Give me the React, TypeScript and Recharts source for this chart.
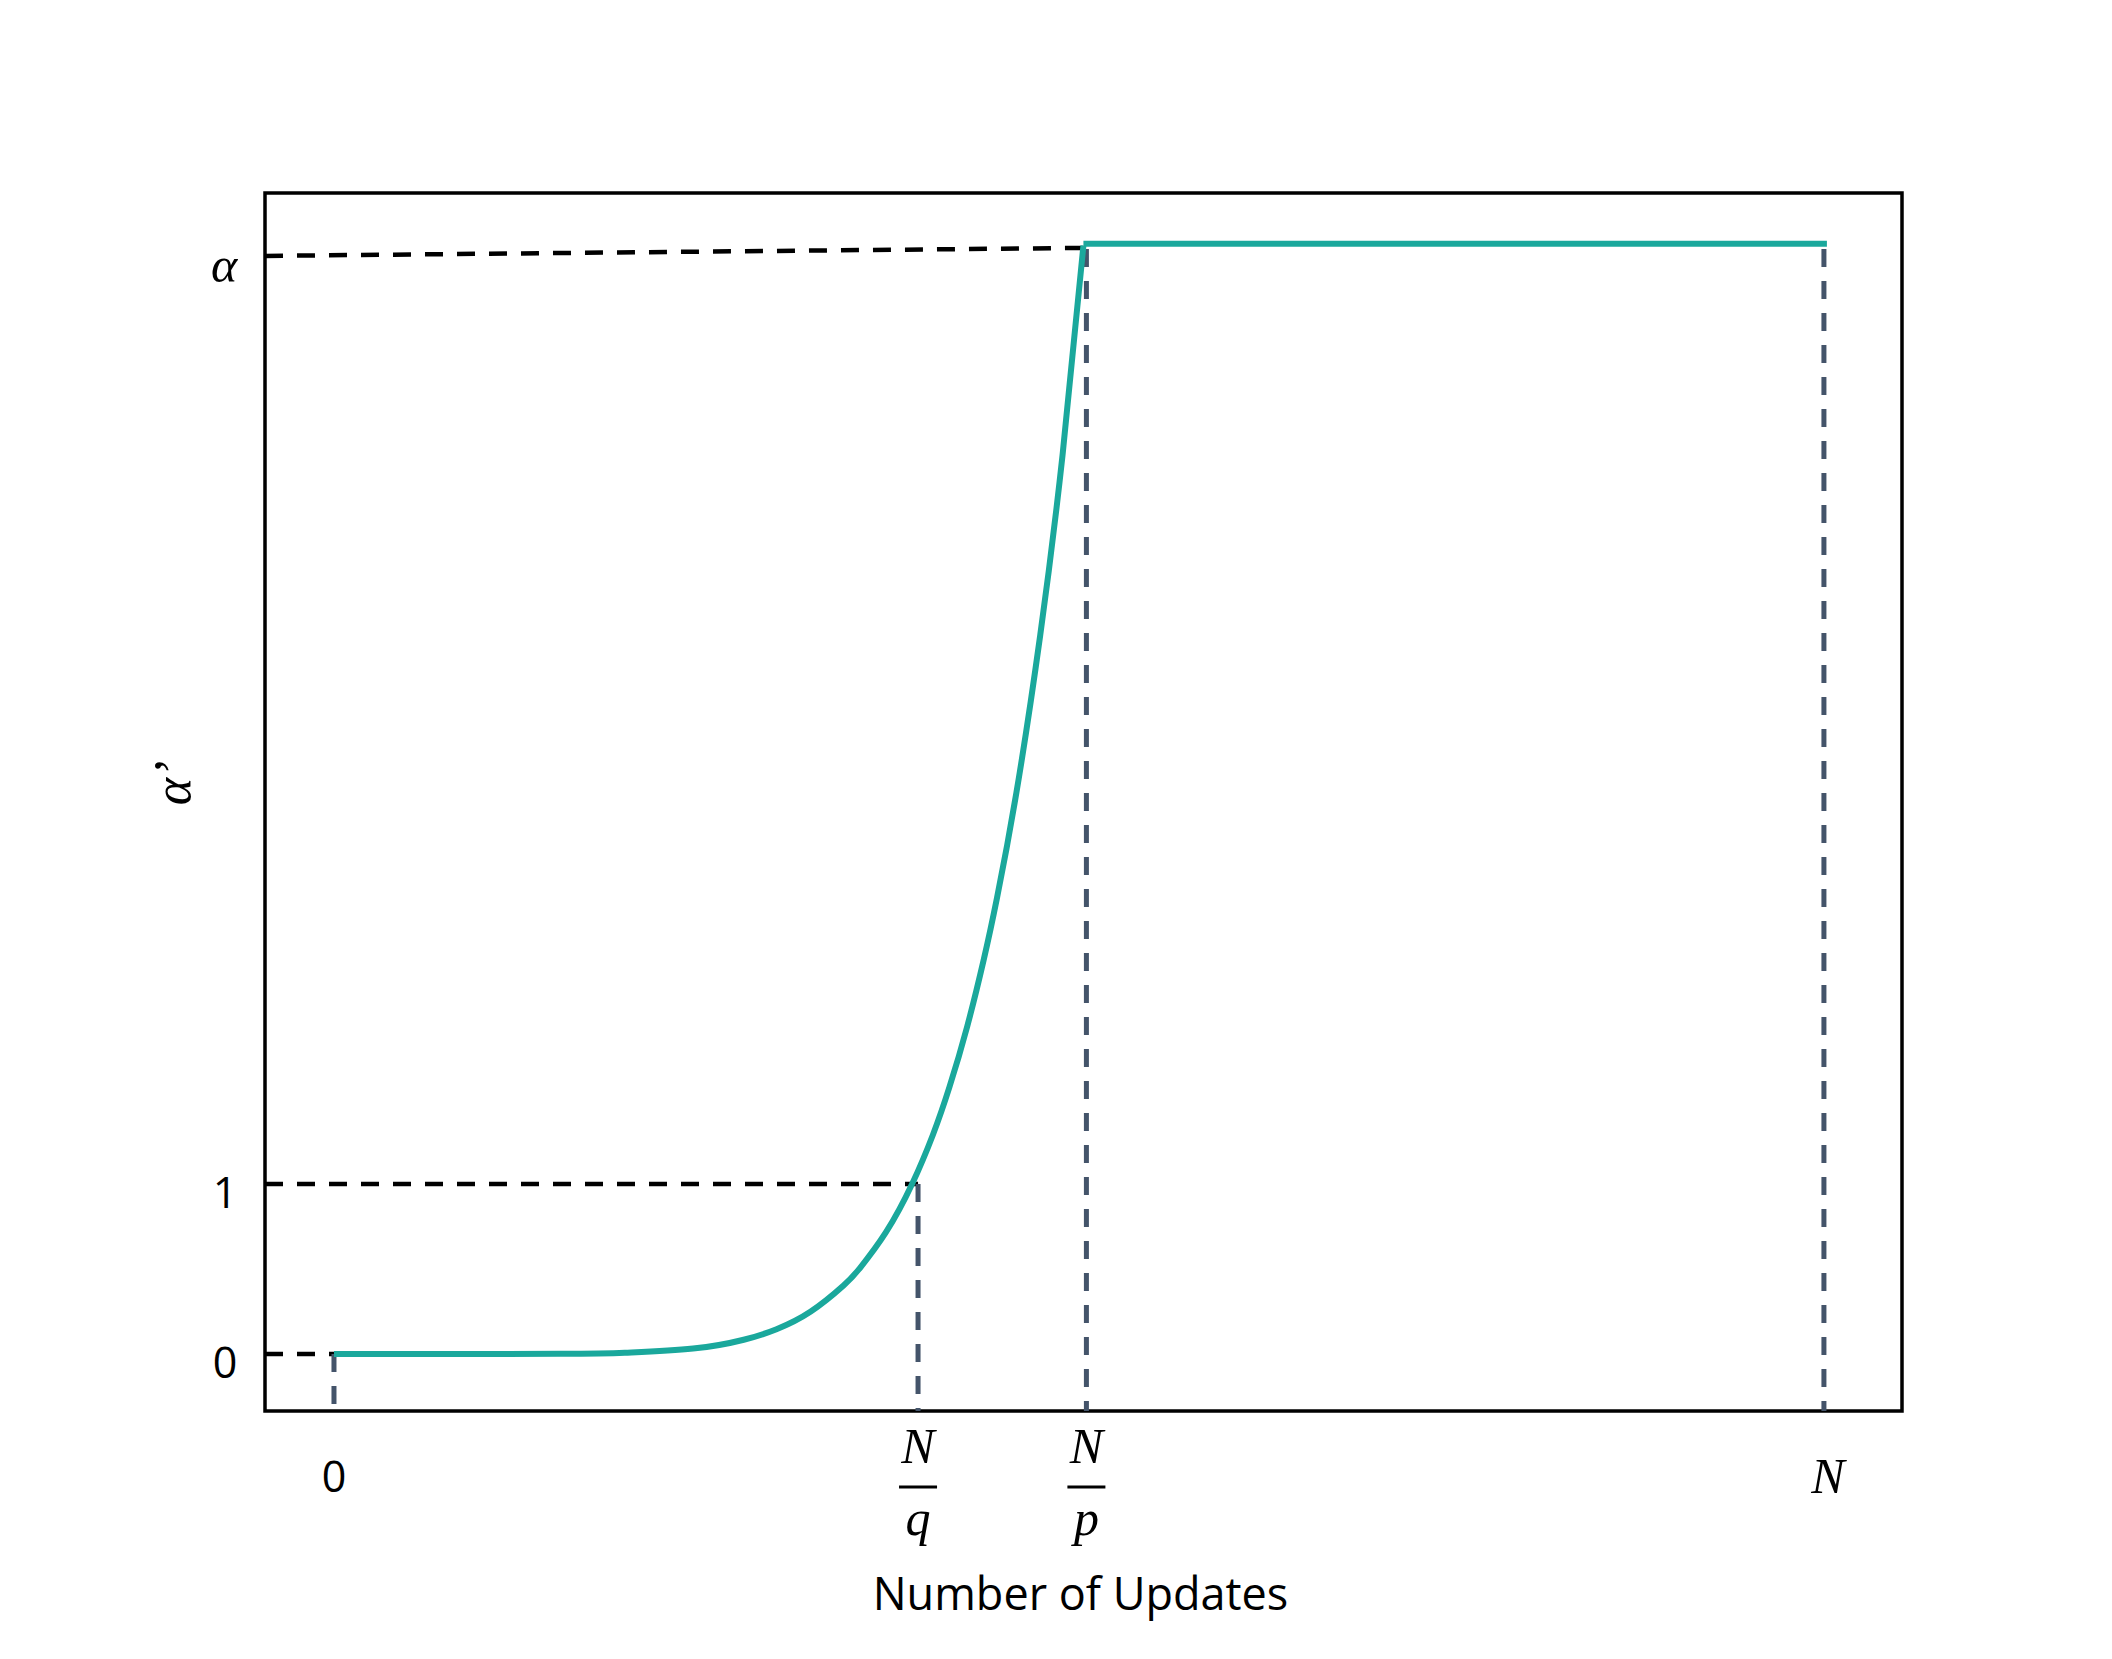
import { Line, LineChart, ReferenceArea, ReferenceLine, XAxis, YAxis } from 'recharts'

// alpha' schedule: flat near 0, rises steeply, then plateaus at alpha
const rampX = [0, 15.2, 19.7, 24.1, 27.5, 29.7, 32.0, 34.2, 35.3, 37.05, 38.8, 40.2, 41.3, 42.5, 43.6, 44.5, 45.8, 47.4, 48.9, 50.3]
const rampY = [0, 0.001, 0.008, 0.032, 0.084, 0.146, 0.25, 0.403, 0.506, 0.717, 1.0, 1.29, 1.568, 1.927, 2.316, 2.683, 3.301, 4.228, 5.289, 6.52]
const plateauX = [50.3, 100.2]
const plateauY = [6.53, 6.53]

const ALPHA_LEFT = 6.459
const N_Q = 39.2
const N_P = 50.5
const N = 100

const xTicks = [0, N_Q, N_P, N]
const xTickNames = ['0', 'N/q', 'N/p', 'N']
const yTicks = [0, 1, ALPHA_LEFT]
const yTickNames = ['0', '1', 'α']

const xDomain = [-4.63, 105.24]
const yDomain = [-0.335, 6.829]

const ramp = rampX.map((x, i) => ({ x, y: rampY[i] }))
const plateau = plateauX.map((x, i) => ({ x, y: plateauY[i] }))

const TEAL = '#1aa89c'
const SLATE = '#44546a'
const SANS = '"Open Sans", "Noto Sans", sans-serif'
const MATH = '"Liberation Serif", "DejaVu Serif", serif'

function XTick(props: any) {
  const { x, y, payload } = props
  const idx = xTicks.indexOf(payload.value)
  const name = xTickNames[idx] ?? String(payload.value)
  if (name.includes('/')) {
    const [num, den] = name.split('/')
    return (
      <g>
        <text x={x} y={y + 52} textAnchor="middle" fontFamily={MATH} fontStyle="italic" fontSize={50} fill="#000">{num}</text>
        <line x1={x - 19} x2={x + 19} y1={y + 76} y2={y + 76} stroke="#000" strokeWidth={3} />
        <text x={x} y={y + 124} textAnchor="middle" fontFamily={MATH} fontStyle="italic" fontSize={50} fill="#000">{den}</text>
      </g>
    )
  }
  if (name === 'N') {
    return <text x={x + 4} y={y + 82} textAnchor="middle" fontFamily={MATH} fontStyle="italic" fontSize={50} fill="#000">{name}</text>
  }
  return <text x={x} y={y + 81} textAnchor="middle" fontFamily={SANS} fontSize={43} fill="#000">{name}</text>
}

function YTick(props: any) {
  const { x, y, payload } = props
  const idx = yTicks.indexOf(payload.value)
  const name = yTickNames[idx] ?? String(payload.value)
  if (name === 'α') {
    return <text x={x - 41} y={y + 26} textAnchor="middle" fontFamily={MATH} fontStyle="italic" fontSize={50} fill="#000">{name}</text>
  }
  return <text x={x - 40} y={y + 24} textAnchor="middle" fontFamily={SANS} fontSize={43} fill="#000">{name}</text>
}

function YTitle(props: any) {
  const vb = props.viewBox || { x: 0, y: 0, width: 0, height: 0 }
  const cx = vb.x + 25
  const cy = vb.y + vb.height / 2 - 19
  return (
    <text x={cx} y={cy} transform={`rotate(-90 ${cx} ${cy})`} textAnchor="middle" fontFamily={MATH} fontStyle="italic" fontSize={52} fill="#000">
      α’
    </text>
  )
}

export default function App() {
  return (
    <div style={{ position: 'absolute', left: 0, top: 0, background: '#fff' }}>
      <LineChart width={2112} height={1659} margin={{ top: 193, right: 210, bottom: 48, left: 165 }}>
        <XAxis
          dataKey="x"
          type="number"
          domain={xDomain}
          ticks={xTicks}
          interval={0}
          allowDataOverflow
          axisLine={false}
          tickLine={false}
          tickSize={0}
          tickMargin={0}
          height={200}
          tick={<XTick />}
          label={{ value: 'Number of Updates', position: 'insideBottom', offset: 1, dx: -3, fontSize: 45, fontFamily: SANS, fill: '#000' }}
        />
        <YAxis
          type="number"
          domain={yDomain}
          ticks={yTicks}
          interval={0}
          allowDataOverflow
          axisLine={false}
          tickLine={false}
          tickSize={0}
          tickMargin={0}
          width={100}
          tick={<YTick />}
          label={{ content: <YTitle /> }}
        />
        <ReferenceLine segment={[{ x: xDomain[0], y: ALPHA_LEFT }, { x: 50.3, y: 6.506 }]} stroke="#000" strokeWidth={4.5} strokeDasharray="18 14" ifOverflow="visible" />
        <ReferenceLine segment={[{ x: xDomain[0], y: 1 }, { x: N_Q, y: 1 }]} stroke="#000" strokeWidth={4.5} strokeDasharray="18 14" ifOverflow="visible" />
        <ReferenceLine segment={[{ x: xDomain[0], y: 0 }, { x: 0, y: 0 }]} stroke="#000" strokeWidth={4.5} strokeDasharray="18 14" ifOverflow="visible" />
        <ReferenceLine segment={[{ x: 0, y: 0 }, { x: 0, y: yDomain[0] }]} stroke={SLATE} strokeWidth={5} strokeDasharray="18 14" ifOverflow="visible" />
        <ReferenceLine segment={[{ x: N_Q, y: 1 }, { x: N_Q, y: yDomain[0] }]} stroke={SLATE} strokeWidth={5} strokeDasharray="18 14" ifOverflow="visible" />
        <ReferenceLine segment={[{ x: N_P, y: 6.5 }, { x: N_P, y: yDomain[0] }]} stroke={SLATE} strokeWidth={5} strokeDasharray="18 14" ifOverflow="visible" />
        <ReferenceLine segment={[{ x: N, y: 6.5 }, { x: N, y: yDomain[0] }]} stroke={SLATE} strokeWidth={5} strokeDasharray="18 14" ifOverflow="visible" />
        <Line data={ramp} dataKey="y" type="natural" stroke={TEAL} strokeWidth={6} dot={false} activeDot={false} isAnimationActive={false} />
        <Line data={plateau} dataKey="y" type="linear" stroke={TEAL} strokeWidth={6} dot={false} activeDot={false} isAnimationActive={false} />
        <ReferenceArea x1={xDomain[0]} x2={xDomain[1]} y1={yDomain[0]} y2={yDomain[1]} fill="none" fillOpacity={0} stroke="#000" strokeWidth={3.5} ifOverflow="visible" />
      </LineChart>
    </div>
  )
}
